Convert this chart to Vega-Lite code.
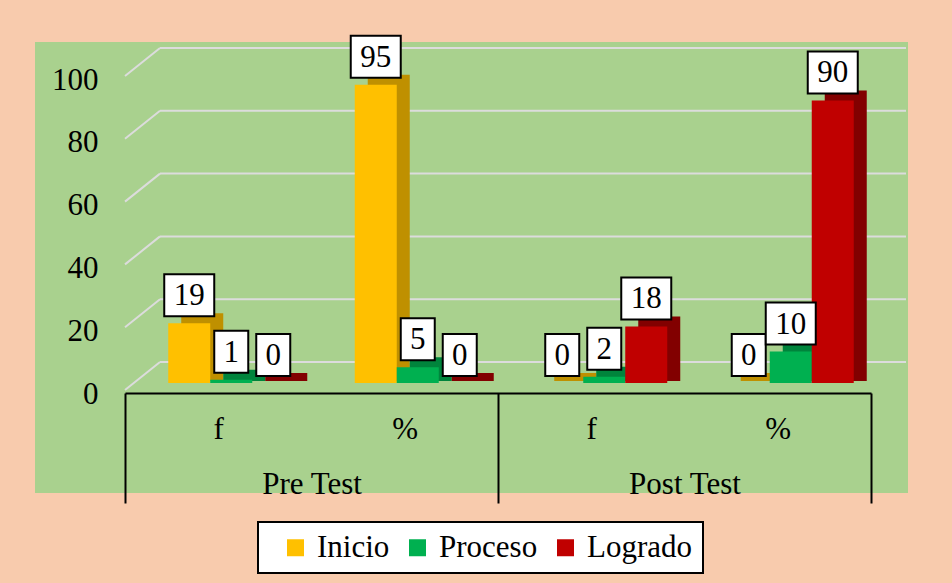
{
"$schema":"https://vega.github.io/schema/vega-lite/v6.json",
"width":873,"height":451,
"autosize":{"type":"none"},
"padding":{"left":35,"top":42,"right":44,"bottom":90},
"background":"#F8CBAD",
"config":{"view":{"fill":"#A9D18E","stroke":null},"font":"Liberation Serif",
  "axis":{"grid":false,"labelFont":"Liberation Serif","labelColor":"black","labelFontSize":31,"title":null}},
"datasets":{
 "bars":[
  {"group":"Pre Test","sub":"Pre Test f","serie":"Inicio","value":19},
  {"group":"Pre Test","sub":"Pre Test f","serie":"Proceso","value":1},
  {"group":"Pre Test","sub":"Pre Test f","serie":"Logrado","value":0},
  {"group":"Pre Test","sub":"Pre Test %","serie":"Inicio","value":95},
  {"group":"Pre Test","sub":"Pre Test %","serie":"Proceso","value":5},
  {"group":"Pre Test","sub":"Pre Test %","serie":"Logrado","value":0},
  {"group":"Post Test","sub":"Post Test f","serie":"Inicio","value":0},
  {"group":"Post Test","sub":"Post Test f","serie":"Proceso","value":2},
  {"group":"Post Test","sub":"Post Test f","serie":"Logrado","value":18},
  {"group":"Post Test","sub":"Post Test %","serie":"Inicio","value":0},
  {"group":"Post Test","sub":"Post Test %","serie":"Proceso","value":10},
  {"group":"Post Test","sub":"Post Test %","serie":"Logrado","value":90}
 ],
 "grid":[{"g":0},{"g":20},{"g":40},{"g":60},{"g":80},{"g":100}]
},
"layer":[
 {"data":{"name":"grid"},
  "mark":{"type":"rule","color":"#DCDCDC","strokeWidth":2,"xOffset":35,"x2Offset":35,"yOffset":-21},
  "encoding":{
   "x":{"datum":0,"type":"quantitative","scale":{"domain":[0,1],"range":[90,836]},"axis":null},
   "x2":{"datum":1},
   "y":{"field":"g","type":"quantitative","title":null,"scale":{"domain":[0,100],"range":[341,27]},
        "axis":{"orient":"left","offset":-90,"domain":false,"ticks":false,"labelPadding":27,"values":[0,20,40,60,80,100],"labelBaseline":"middle","labelOffset":11}}}},
 {"data":{"name":"grid"},
  "mark":{"type":"rule","color":"#DCDCDC","strokeWidth":2,"x2Offset":35,"yOffset":7,"y2Offset":-21},
  "encoding":{
   "x":{"datum":0,"type":"quantitative","scale":{"domain":[0,1],"range":[90,836]},"axis":null},
   "x2":{"datum":0},
   "y":{"field":"g","type":"quantitative","title":null},
   "y2":{"field":"g"}}},
 {"data":{"name":"bars"},
  "mark":{"type":"bar","yOffset":-10,"y2Offset":-2},
  "encoding":{
   "x":{"field":"sub","type":"nominal","sort":null,
        "scale":{"domain":["Pre Test f","Pre Test %","Post Test f","Post Test %"],"range":[116,862],"paddingInner":0,"paddingOuter":0},"axis":null},
   "xOffset":{"field":"serie","type":"nominal","scale":{"domain":["Inicio","Proceso","Logrado"],"paddingInner":0,"paddingOuter":0.72}},
   "y":{"field":"value","type":"quantitative","title":null},
   "y2":{"datum":0},
   "color":{"field":"serie","type":"nominal","scale":{"domain":["Inicio","Proceso","Logrado"],"range":["#BF9000","#00843C","#820000"]},"legend":null}}},
 {"data":{"name":"bars"},
  "encoding":{
   "x":{"field":"sub","type":"nominal","sort":null,
        "scale":{"domain":["Pre Test f","Pre Test %","Post Test f","Post Test %"],"range":[103,849],"paddingInner":0,"paddingOuter":0},"axis":null},
   "xOffset":{"field":"serie","type":"nominal","scale":{"domain":["Inicio","Proceso","Logrado"],"paddingInner":0,"paddingOuter":0.72}},
   "y":{"field":"value","type":"quantitative","title":null}
  },
  "layer":[
   {"mark":{"type":"bar"},
    "encoding":{"color":{"field":"serie","type":"nominal","scale":{"domain":["Inicio","Proceso","Logrado"],"range":["#FFC000","#00B050","#C00000"]},
      "legend":{"orient":"none","legendX":223,"legendY":480,"direction":"horizontal","title":null,"fillColor":"white","strokeColor":"black","padding":10,
        "symbolType":"square","symbolSize":289,"symbolStrokeWidth":0,"symbolOffset":12,"symbolOpacity":1,
        "labelFontSize":31,"labelFont":"Liberation Serif","labelColor":"black","labelOffset":6,"columnPadding":0,"labelLimit":300,
        "encode":{"legend":{"update":{"strokeWidth":{"value":2}}}}}}}},
   {"mark":{"type":"point","filled":true,"fill":"white","stroke":"black","strokeWidth":2,"opacity":1,"size":2500,"yOffset":-28},
    "encoding":{"shape":{"condition":{"test":"datum.value >= 10","value":"M-1,-0.84L1,-0.84L1,0.84L-1,0.84Z"},"value":"M-0.68,-0.84L0.68,-0.84L0.68,0.84L-0.68,0.84Z"}}},
   {"mark":{"type":"text","font":"Liberation Serif","fontSize":31,"color":"black","baseline":"middle","yOffset":-27},
    "encoding":{"text":{"field":"value","type":"quantitative"}}}
  ]
 },
 {"data":{"name":"bars"},
  "mark":{"type":"point","opacity":0},
  "encoding":{
   "x":{"field":"sub","type":"nominal","sort":null,
        "scale":{"domain":["Pre Test f","Pre Test %","Post Test f","Post Test %"],"range":[90,836],"paddingInner":0,"paddingOuter":0},
        "axis":{"orient":"bottom","offset":-100,"domainColor":"black","domainWidth":2,"ticks":false,"labelPadding":45,"labelBaseline":"alphabetic","labelAngle":0,"labelExpr":"substring(datum.label, length(datum.label)-1)"}}}},
 {"data":{"name":"bars"},
  "mark":{"type":"point","opacity":0},
  "encoding":{
   "x":{"field":"group","type":"nominal","sort":null,
        "scale":{"domain":["Pre Test","Post Test"],"range":[90,836],"paddingInner":0,"paddingOuter":0},
        "axis":{"orient":"bottom","offset":-100,"tickBand":"extent","tickSize":110,"tickWidth":2,"tickColor":"black","domain":false,"labelPadding":-10,"labelBaseline":"alphabetic","labelAngle":0}}}}
],
"resolve":{"scale":{"x":"independent","xOffset":"independent","color":"independent"},"axis":{"x":"independent"}}
}
